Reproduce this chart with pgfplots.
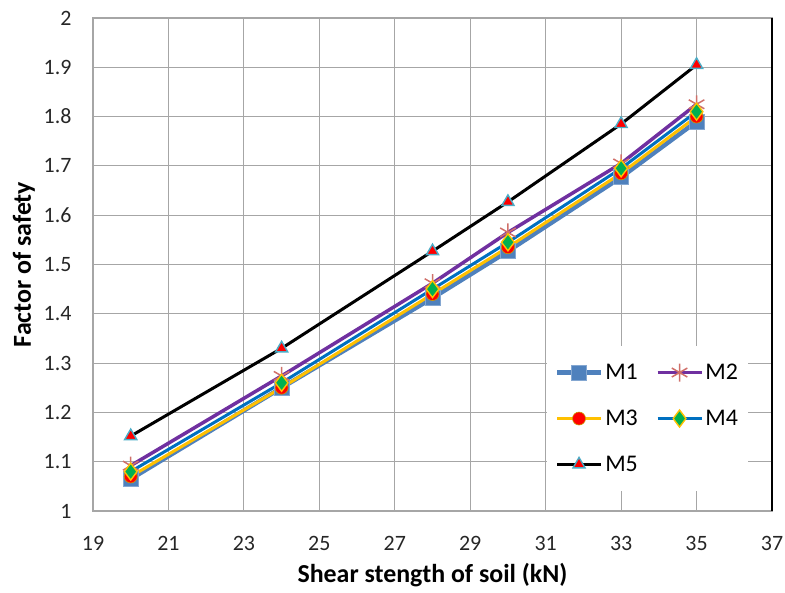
\documentclass[border=0pt]{standalone}
\usepackage{pgfplots}
\pgfplotsset{compat=1.18}
\usepackage{fontspec}
\setmainfont{Carlito}
\definecolor{cM1}{HTML}{4F81BD}
\definecolor{cM2}{HTML}{7030A0}
\definecolor{cM2m}{HTML}{D0706A}
\definecolor{cM3}{HTML}{FFC000}
\definecolor{cM4}{HTML}{0070C0}
\definecolor{cM4m}{HTML}{00B050}
\definecolor{cM5m}{HTML}{4BACC6}
\definecolor{gridc}{HTML}{A6A6A6}
\begin{document}
\begin{tikzpicture}
\begin{axis}[
  scale only axis,
  width=679bp, height=493bp,
  xmin=19, xmax=37, ymin=1, ymax=2,
  xtick={19,21,...,37},
  ytick={1,1.1,...,2.01},
  yticklabel style={/pgf/number format/fixed,/pgf/number format/precision=1, xshift=-18bp},
  xticklabel style={yshift=-22bp},
  /pgf/number format/assume math mode=true,
  ticklabel style={font=\fontsize{22}{26}\selectfont, text=black!85},
  major tick length=0pt,
  xmajorgrids, ymajorgrids,
  grid style={gridc, line width=1pt},
  axis line style={gridc, line width=1.2pt},
  xlabel={\textbf{Shear stength of soil (kN)}},
  ylabel={\textbf{Factor of safety}},
  label style={font=\fontsize{26}{30}\selectfont},
  xlabel style={yshift=-6bp},
  ylabel style={yshift=2bp},
  legend columns=2,
  legend style={at={(0.668,0.335)}, anchor=north west, draw=none, fill=white,
    font=\fontsize{24}{28}\selectfont, row sep=25bp,
    inner xsep=8bp, inner ysep=16bp,
    /tikz/every even column/.append style={column sep=16bp}},
  legend cell align=left,
  legend image code/.code={\draw[mark repeat=2,mark phase=2] plot coordinates {(0bp,0bp) (22bp,0bp) (44bp,0bp)};},
  clip=false,
]
\addplot[cM1, line width=4.5bp, mark=square*, mark size=7.5bp, mark options={fill=cM1, draw=cM1!70, line width=0.6pt}]
  coordinates {(20,1.065) (24,1.25) (28,1.432) (30,1.527) (33,1.677) (35,1.79)};
\addlegendentry{M1}
\addplot[cM2, line width=3.5bp, mark=asterisk, mark size=9bp, mark options={draw=cM2m, line width=1.5pt}]
  coordinates {(20,1.092) (24,1.274) (28,1.462) (30,1.565) (33,1.705) (35,1.825)};
\addlegendentry{M2}
\addplot[cM3, line width=3bp, mark=*, mark size=6.5bp, mark options={fill=red, draw=cM3!80!black, line width=0.6pt}]
  coordinates {(20,1.07) (24,1.25) (28,1.44) (30,1.535) (33,1.685) (35,1.8)};
\addlegendentry{M3}
\addplot[cM4, line width=3bp, mark=diamond*, mark size=8.5bp, mark options={fill=cM4m, draw=cM3, line width=1.4pt}]
  coordinates {(20,1.08) (24,1.26) (28,1.45) (30,1.545) (33,1.695) (35,1.81)};
\addlegendentry{M4}
\addplot[black, line width=3bp, mark=triangle*, mark size=7bp, mark options={fill=red, draw=cM5m, line width=1.4pt}]
  coordinates {(20,1.152) (24,1.33) (28,1.527) (30,1.627) (33,1.785) (35,1.905)};
\addlegendentry{M5}
\draw[black, line width=1.2pt] (rel axis cs:1,0) -- (rel axis cs:1,1);
\end{axis}
\pgfresetboundingbox
\path (-93bp,-82bp) rectangle (692bp,511bp);
\end{tikzpicture}
\end{document}
